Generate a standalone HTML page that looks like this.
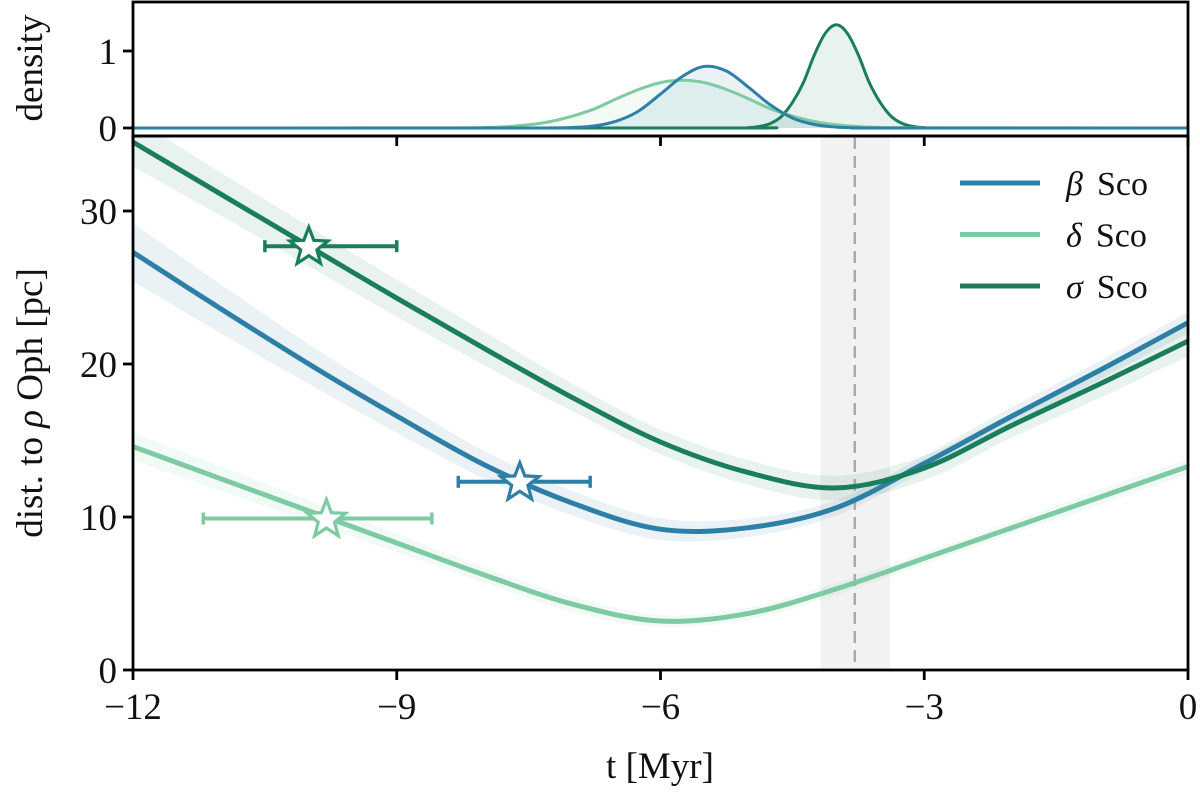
<!DOCTYPE html>
<html><head><meta charset="utf-8"><style>
html,body{margin:0;padding:0;background:#fff;}
svg text{font-family:"Liberation Serif",serif;fill:#111;}
</style></head><body>
<svg id="chart" width="1200" height="797" viewBox="0 0 1200 797" xmlns="http://www.w3.org/2000/svg" style="position:absolute;left:0;top:0">
<g id="bands"></g><g id="lines"></g><g id="marks"></g><g id="axes"></g>
<text x="660" y="778" font-size="37" text-anchor="middle">t [Myr]</text>
<text transform="translate(42,403) rotate(-90)" font-size="37" text-anchor="middle">dist. to <tspan font-style="italic">ρ</tspan> Oph [pc]</text>
<text transform="translate(42,68) rotate(-90)" font-size="37" text-anchor="middle">density</text>
</svg>
<script>
// ---- data ----
const tGrid = [-12,-11,-10,-9,-8,-7,-6,-5,-4,-3,-2,-1,0];
const betaDist  = [27.3,23.6,20.0,16.6,13.4,10.9,9.2,9.3,10.6,13.5,16.6,19.6,22.7];
const deltaDist = [14.6,12.5,10.4,8.3,6.2,4.3,3.2,3.7,5.3,7.3,9.3,11.3,13.3];
const sigmaDist = [34.5,31.1,27.7,24.3,21.0,17.8,14.9,12.9,11.9,13.2,16.0,18.7,21.5];
const betaErr  = [1.9,1.6,1.3,1.1,0.9,0.8,0.7,0.6,0.5,0.5,0.6,0.6,0.7];
const deltaErr = [0.9,0.8,0.7,0.6,0.5,0.5,0.4,0.4,0.4,0.4,0.4,0.5,0.5];
const sigmaErr = [1.6,1.4,1.3,1.2,1.1,0.9,0.8,0.8,0.8,0.8,0.8,0.9,1.0];
const starNames = ["beta","delta","sigma"];
const starT = [-7.6,-9.8,-10.0];
const starD = [12.3,9.9,27.7];
const starTLo = [-8.3,-11.2,-10.5];
const starTHi = [-6.8,-8.6,-9.0];
const betaDensT = [-12,-7.5,-7.25,-7,-6.75,-6.5,-6.25,-6,-5.75,-5.5,-5.25,-5,-4.75,-4.5,-4.25,-4,-3.75,-3.5,0];
const betaDens  = [0,0,0.001,0.007,0.027,0.089,0.22,0.44,0.67,0.80,0.74,0.53,0.30,0.13,0.045,0.012,0.002,0,0];
const deltaDensT = [-12,-8.5,-8,-7.75,-7.5,-7.25,-7,-6.75,-6.5,-6.25,-6,-5.75,-5.5,-5.25,-5,-4.75,-4.5,-4.25,-4,-3.75,-3.5,-3.25,0];
const deltaDens  = [0,0.001,0.007,0.018,0.041,0.084,0.155,0.25,0.38,0.50,0.59,0.62,0.59,0.50,0.38,0.25,0.155,0.084,0.041,0.018,0.007,0.002,0];
const sigmaDensT = [-12,-5.25,-5,-4.875,-4.75,-4.625,-4.5,-4.375,-4.25,-4.125,-4,-3.875,-3.75,-3.625,-3.5,-3.375,-3.25,-3.125,-3,-2.75,0];
const sigmaDens  = [0,0,0.005,0.02,0.059,0.15,0.33,0.59,0.95,1.23,1.34,1.23,0.95,0.59,0.33,0.15,0.059,0.02,0.005,0,0];
const encounterT = -3.79, encounterLo = -4.18, encounterHi = -3.39;
const xTicks = [-12,-9,-6,-3,0];
const yTicks = [0,10,20,30];
const densTicks = [0,1];
const legendLabels = ["β","δ","σ"];
// ---- scales ----
const X0=133,X1=1188;
const x = t => X0 + (t+12)/12*(X1-X0);
const y = d => 670 - d*15.3;
const yd = v => 128 - v*77;
const colors = {beta:"#2e7fa6",delta:"#7dcaa3",sigma:"#1a7d5b"};
const NS="http://www.w3.org/2000/svg";
function mk(tag,attrs,parent){const e=document.createElementNS(NS,tag);for(const k in attrs)e.setAttribute(k,attrs[k]);parent.appendChild(e);return e;}
function smooth(pts){
  let d="M"+pts[0][0].toFixed(1)+","+pts[0][1].toFixed(1);
  for(let i=0;i<pts.length-1;i++){
    const p0=pts[Math.max(0,i-1)],p1=pts[i],p2=pts[i+1],p3=pts[Math.min(pts.length-1,i+2)];
    const c1=[p1[0]+(p2[0]-p0[0])/6,p1[1]+(p2[1]-p0[1])/6];
    const c2=[p2[0]-(p3[0]-p1[0])/6,p2[1]-(p3[1]-p1[1])/6];
    d+="C"+c1[0].toFixed(1)+","+c1[1].toFixed(1)+" "+c2[0].toFixed(1)+","+c2[1].toFixed(1)+" "+p2[0].toFixed(1)+","+p2[1].toFixed(1);
  }
  return d;
}
const bands=document.getElementById('bands'),lines=document.getElementById('lines'),marks=document.getElementById('marks'),axes=document.getElementById('axes');
const defs=mk('defs',{},document.getElementById('chart'));
const cp=mk('clipPath',{id:'mainclip'},defs);mk('rect',{x:X0,y:137,width:X1-X0,height:533},cp);
const cp2=mk('clipPath',{id:'topclip'},defs);mk('rect',{x:X0,y:2,width:X1-X0,height:134},cp2);
bands.setAttribute('clip-path','url(#mainclip)');lines.setAttribute('clip-path','url(#mainclip)');
const span=mk('rect',{x:x(encounterLo),y:137,width:x(encounterHi)-x(encounterLo),height:533,fill:"#f2f2f2"},bands);


const dg=mk('g',{'clip-path':'url(#topclip)'},marks);
const dens=[["sigma",sigmaDensT,sigmaDens],["delta",deltaDensT,deltaDens],["beta",betaDensT,betaDens]];
dens.forEach(([n,T,V])=>{
  const pts=T.map((t,i)=>[x(t),yd(V[i])]);
  const f=mk('path',{d:smooth(pts)+"L"+x(0)+","+yd(0)+"L"+x(-12)+","+yd(0)+"Z",fill:colors[n],'fill-opacity':0.1},dg);
  
  
});
dens.forEach(([n,T,V])=>{
  const pts=T.map((t,i)=>[x(t),yd(V[i])]);
  const l=mk('path',{d:smooth(pts),fill:'none',stroke:colors[n],'stroke-width':3},dg);
  
  
});
const series=[["delta",deltaDist,deltaErr],["beta",betaDist,betaErr],["sigma",sigmaDist,sigmaErr]];
series.forEach(([n,D,E])=>{
  const up=tGrid.map((t,i)=>[x(t),y(D[i]+E[i])]);
  const lo=tGrid.map((t,i)=>[x(t),y(D[i]-E[i])]).reverse();
  const b=mk('path',{d:smooth(up)+"L"+smooth(lo).slice(1)+"Z",fill:colors[n],'fill-opacity':0.1},bands);
  
  
});
const dash=mk('line',{x1:x(encounterT),x2:x(encounterT),y1:137,y2:670,stroke:"#aaa",'stroke-width':2.5,'stroke-dasharray':"12,7"},lines);


series.forEach(([n,D])=>{
  const l=mk('path',{d:smooth(tGrid.map((t,i)=>[x(t),y(D[i])])),fill:'none',stroke:colors[n],'stroke-width':5},lines);
  
  
});
function starPath(cx,cy,R,r){let d="";for(let i=0;i<10;i++){const a=-Math.PI/2+i*Math.PI/5;const rr=i%2?r:R;d+=(i?"L":"M")+(cx+rr*Math.cos(a)).toFixed(1)+","+(cy+rr*Math.sin(a)).toFixed(1);}return d+"Z";}
starNames.forEach((n,i)=>{
  const g=mk('g',{},marks);
  
  
  const cy=y(starD[i]);
  mk('line',{x1:x(starTLo[i]),x2:x(starTHi[i]),y1:cy,y2:cy,stroke:colors[n],'stroke-width':4},g);
  [starTLo[i],starTHi[i]].forEach(t=>mk('line',{x1:x(t),x2:x(t),y1:cy-6,y2:cy+6,stroke:colors[n],'stroke-width':3.5},g));
  mk('path',{d:starPath(x(starT[i]),cy+1,20,8.5),fill:'#fff',stroke:colors[n],'stroke-width':3.2},g);
});
const f1=mk('rect',{x:X0,y:2,width:X1-X0,height:134,fill:'none',stroke:'#000','stroke-width':2.8},axes);


const f2=mk('rect',{x:X0,y:136,width:X1-X0,height:534,fill:'none',stroke:'#000','stroke-width':2.8},axes);


xTicks.forEach(t=>{
  mk('line',{x1:x(t),x2:x(t),y1:670,y2:680,stroke:'#000','stroke-width':2.8},axes);
  mk('line',{x1:x(t),x2:x(t),y1:136,y2:146,stroke:'#000','stroke-width':2.8},axes);
  const tx=mk('text',{x:x(t),y:719,'font-size':37,'text-anchor':'middle'},axes);
  tx.textContent=(t<0?"\u2212"+(-t):""+t);
  
  
});
yTicks.forEach(v=>{
  mk('line',{x1:X0-10,x2:X0,y1:y(v),y2:y(v),stroke:'#000','stroke-width':2.8},axes);
  const tx=mk('text',{x:X0-16,y:y(v)+13,'font-size':37,'text-anchor':'end'},axes);
  tx.textContent=v;
  
  
});
densTicks.forEach(v=>{
  mk('line',{x1:X0-10,x2:X0,y1:yd(v),y2:yd(v),stroke:'#000','stroke-width':2.8},axes);
  const tx=mk('text',{x:X0-16,y:yd(v)+13,'font-size':37,'text-anchor':'end'},axes);
  tx.textContent=v;
  
  
});
starNames.forEach((n,i)=>{
  const g=mk('g',{},axes);
  
  
  const ly=183+i*51.5;
  mk('line',{x1:960,x2:1040,y1:ly,y2:ly,stroke:colors[n],'stroke-width':5},g);
  const tx=mk('text',{x:1066,y:ly+12,'font-size':34},g);
  const s=mk('tspan',{'font-style':'italic'},tx);s.textContent=legendLabels[i];
  const s2=mk('tspan',{dx:14},tx);s2.textContent="Sco";
});
</script>
</body></html>
